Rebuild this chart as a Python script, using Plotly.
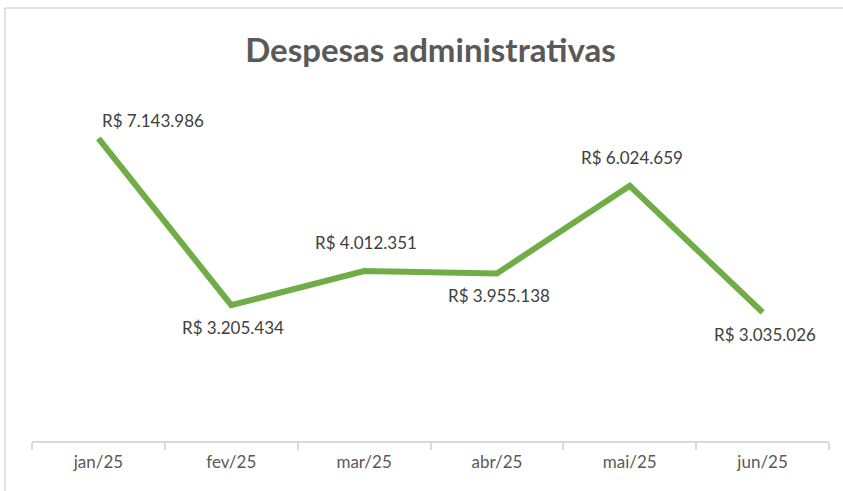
import plotly.graph_objects as go

months = ["jan/25", "fev/25", "mar/25", "abr/25", "mai/25", "jun/25"]
values = [7143986, 3205434, 4012351, 3955138, 6024659, 3035026]
label_pos = ["above", "below", "above", "below", "above", "below"]

def fmt(v):
    return "R$ " + f"{v:,}".replace(",", ".")

W, H = 843, 491
PL, PR, PT, PB = 32, 829, 102, 441

fig = go.Figure()
fig.add_trace(go.Scatter(
    x=months, y=values, mode="lines",
    line=dict(color="#70AD47", width=6),
    hoverinfo="skip", showlegend=False,
))

lab_font = dict(family="Lato", size=17, color="#404040")
annotations = []
for i, (m, v, p) in enumerate(zip(months, values, label_pos)):
    if i == 0:
        annotations.append(dict(x=m, y=v, text=fmt(v), showarrow=False,
                                xanchor="left", xshift=2, yshift=18, font=lab_font))
    else:
        annotations.append(dict(x=m, y=v, text=fmt(v), showarrow=False,
                                xshift=2, yshift=(28 if p == "above" else -22),
                                font=lab_font))

bx0 = (5 - PL) / (PR - PL)
by1 = (PB - 8) / (PB - PT)
border = dict(color="#D9D9D9", width=1.5)

fig.update_layout(
    width=W, height=H,
    margin=dict(l=PL, r=W - PR, t=PT, b=H - PB),
    paper_bgcolor="white", plot_bgcolor="white",
    title=dict(text="<b>Despesas administrativas</b>", x=0.5, xanchor="center",
               xref="paper",
               y=1 - 50 / H, yanchor="middle",
               font=dict(family="Lato", size=33, color="#595959")),
    xaxis=dict(type="category", range=[-0.5, 5.5], showgrid=False,
               showline=True, linecolor="#D9D9D9", linewidth=1.5,
               ticks="outside", tickson="boundaries", ticklen=7,
               tickcolor="#D9D9D9", tickwidth=1.5,
               ticklabelstandoff=5,
               tickfont=dict(family="Lato", size=17, color="#595959"),
               zeroline=False, fixedrange=True),
    yaxis=dict(range=[0, 8000000], visible=False, fixedrange=True),
    annotations=annotations,
    shapes=[
        dict(type="line", xref="paper", yref="paper",
             x0=bx0, x1=1.1, y0=by1, y1=by1, line=border, layer="below"),
        dict(type="line", xref="paper", yref="paper",
             x0=bx0, x1=bx0, y0=-0.3, y1=by1, line=border, layer="below"),
    ],
)

fig.write_html("out.html", config={"displayModeBar": False},
               post_script="document.body.style.margin='0';document.body.style.overflow='hidden';")
